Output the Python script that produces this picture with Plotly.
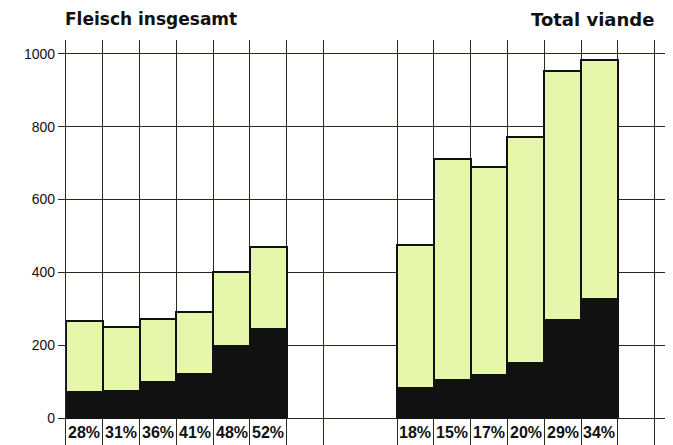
import plotly.graph_objects as go

# Data
positions = [0, 1, 2, 3, 4, 5, 9, 10, 11, 12, 13, 14]
black_values = [72, 75, 98, 121, 198, 244, 83, 104, 117, 150, 269, 327]
totals = [266, 249, 272, 291, 400, 470, 475, 711, 690, 771, 954, 983]
green_values = [t - b for t, b in zip(totals, black_values)]
pct_labels = ["28%", "31%", "36%", "41%", "48%", "52%",
              "18%", "15%", "17%", "20%", "29%", "34%"]
y_ticks = [0, 200, 400, 600, 800, 1000]
grid_x = [-0.5, 0.5, 1.5, 2.5, 3.5, 4.5, 5.5, 6.5, 8.5, 9.5, 10.5, 11.5, 12.5, 13.5, 14.5, 15.5]
title_left = "Fleisch insgesamt"
title_right = "Total viande"

GREEN = "#e6f6aa"
BLACK = "#111111"
LINE = "#2a2a1a"

# the page body adds an 8px offset; compensate in the figure size/margins
OFF = 8

fig = go.Figure()
fig.add_trace(go.Bar(x=positions, y=black_values, width=1,
                     marker=dict(color=BLACK, line=dict(color=BLACK, width=2)),
                     hoverinfo="skip"))
fig.add_trace(go.Bar(x=positions, y=green_values, width=1,
                     marker=dict(color=GREEN, line=dict(color=BLACK, width=2)),
                     hoverinfo="skip"))

annotations = []
for x, lab in zip(positions, pct_labels):
    annotations.append(dict(x=x, y=-40, text="<b>" + lab + "</b>", showarrow=False,
                            xref="x", yref="y",
                            font=dict(family="Liberation Sans", size=16, color="#111")))
annotations.append(dict(x=-0.5, y=1.0, xref="x", yref="paper", xshift=-3, yshift=21,
                        xanchor="left", yanchor="middle",
                        text="<b>" + title_left + "</b>", showarrow=False,
                        font=dict(family="DejaVu Sans", size=17, color="#111")))
annotations.append(dict(x=15.5, y=1.0, xref="x", yref="paper", xshift=1, yshift=21,
                        xanchor="right", yanchor="middle",
                        text="<b>" + title_right + "</b>", showarrow=False,
                        font=dict(family="DejaVu Sans", size=18, color="#111")))

fig.update_layout(
    barmode="stack",
    width=673 - OFF, height=445 - OFF,
    margin=dict(l=66 - OFF, r=0, t=40 - OFF, b=0, autoexpand=False),
    plot_bgcolor="white", paper_bgcolor="white",
    showlegend=False,
    bargap=0,
    annotations=annotations,
)

fig.update_xaxes(range=[-0.5, 16.0], tickvals=grid_x, showticklabels=False,
                 showgrid=True, gridcolor=LINE, gridwidth=1.2, zeroline=False,
                 ticks="", showline=False)
fig.update_yaxes(range=[-74, 1038], tickvals=y_ticks, ticktext=[str(v) for v in y_ticks],
                 showgrid=True, gridcolor=LINE, gridwidth=1.2, zeroline=False,
                 ticks="outside", ticklen=7, tickcolor=LINE, tickwidth=1.2,
                 showline=True, linecolor=LINE, linewidth=1.2,
                 tickfont=dict(family="Liberation Sans", size=14, color="#111"))

fig.write_html("out.html")
